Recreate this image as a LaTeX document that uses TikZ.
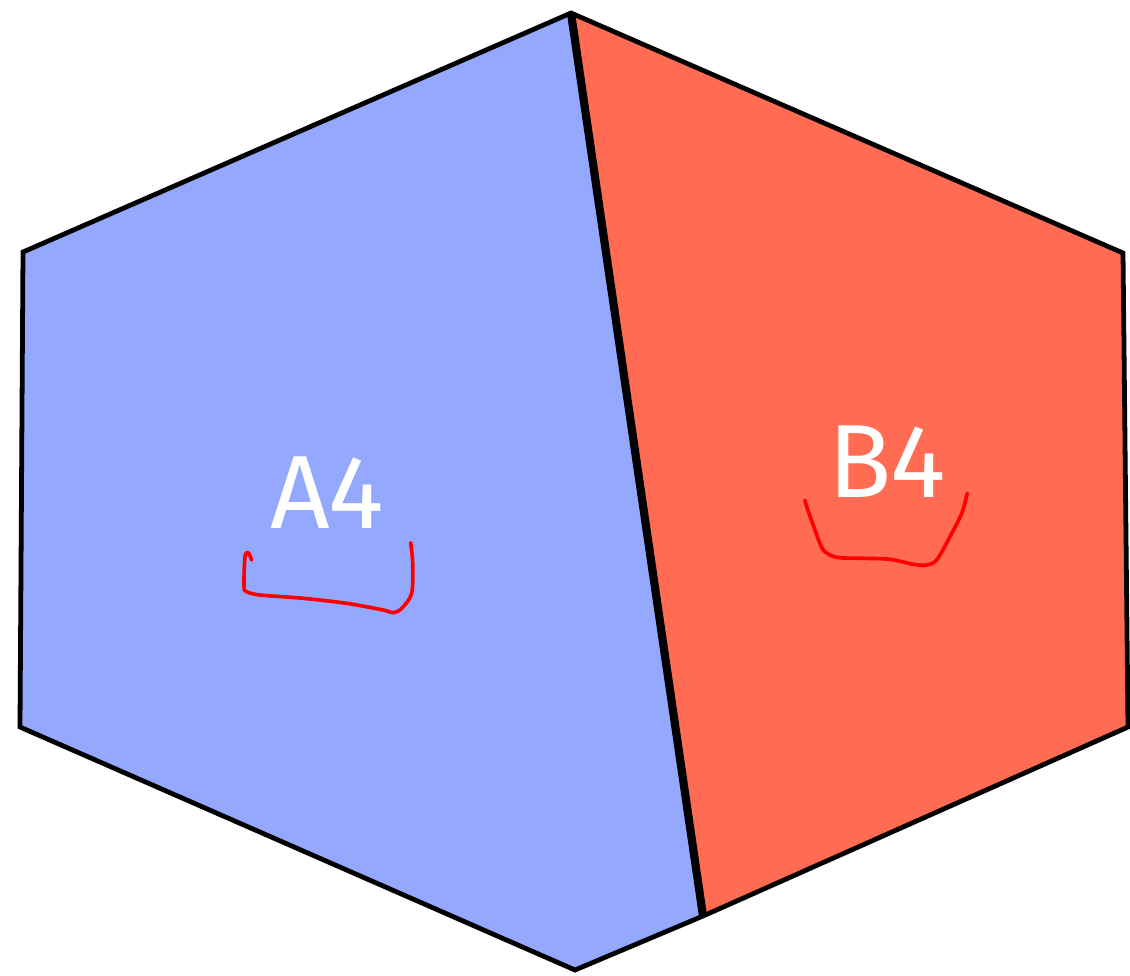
\documentclass[tikz,border=0pt]{standalone}
\usepackage{fontspec}
\usepackage{xcolor}
\usepackage{tikz}
\usetikzlibrary{calc}
\newfontfamily\labelfont{Fira Sans}
\definecolor{faceblue}{HTML}{94A9FE}
\definecolor{facered}{HTML}{FF6B53}

\begin{document}
\begin{tikzpicture}[
  x=0.025cm, y=-0.025cm,
  outline/.style={draw=black, line width=3.4pt},
  divider/.style={draw=black, line width=5.8pt},
  facelabel/.style={text=white, font=\labelfont\fontsize{74}{74}\selectfont, inner sep=0pt},
  scribble/.style={draw=red, line width=2.6pt, line cap=round, line join=round}
]

\useasboundingbox (0,0) rectangle (1130,975);

% corners of the hexagon
\coordinate (top) at (571,13);
\coordinate (lefttop) at (23,252);
\coordinate (leftbot) at (20,727);
\coordinate (bot) at (575,970);
\coordinate (cutbot) at (703,916);
\coordinate (rightbot) at (1128,727);
\coordinate (righttop) at (1123,253);

% the two faces
\fill[faceblue] (top) -- (lefttop) -- (leftbot) -- (bot) -- (cutbot) -- cycle;
\fill[facered] (top) -- (righttop) -- (rightbot) -- (cutbot) -- cycle;
\draw[outline] (top) -- (lefttop) -- (leftbot) -- (bot) -- (cutbot) -- (rightbot) -- (righttop) -- cycle;
\draw[divider] (top) -- (cutbot);

% labels
\node[facelabel] (labelA) at (327,493) {A4};
\node[facelabel] (labelB) at (887,462) {B4};

% hand drawn brackets
\draw[scribble] plot[smooth, tension=0.5] coordinates {(251.7,560) (248.3,552.7) (245,556.7) (244,586.7) (246.7,591.7) (260,595) (303.3,598.3) (346.7,603.3) (383.3,610) (393.3,612.7) (401.7,608.3) (411.7,593.3) (412.7,563.3) (410.7,542.7)};
\draw[scribble] plot[smooth, tension=0.5] coordinates {(805,500) (806.7,506.7) (815,530) (823.3,550) (836.7,557.3) (863.3,558.3) (890,559.3) (913.3,564.3) (926.7,565) (936.7,560) (950,536.7) (961.7,513.3) (967.3,493.3)};

\end{tikzpicture}
\end{document}
